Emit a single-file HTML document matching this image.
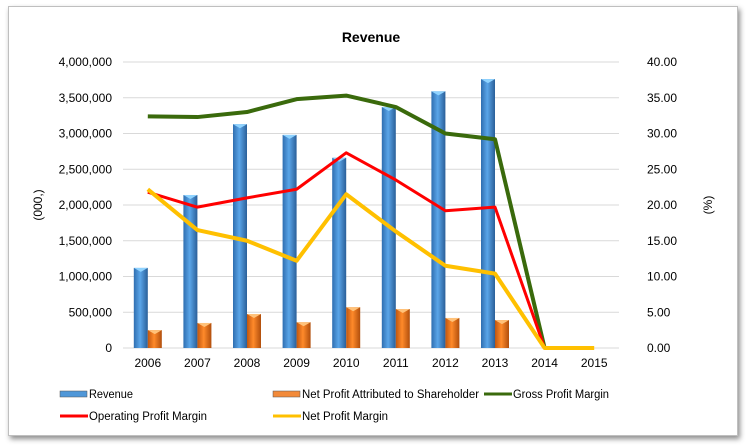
<!DOCTYPE html>
<html><head><meta charset="utf-8"><style>
body{margin:0;background:#fff;width:746px;height:448px;overflow:hidden;font-family:"Liberation Sans",sans-serif}
#frame{position:absolute;left:8px;top:6px;width:728px;height:428px;border:1px solid #bfbfbf;box-shadow:2px 3px 5px rgba(0,0,0,.45);background:#fff}
</style></head><body>
<div id="frame"></div>
<svg id="c" width="746" height="448" style="position:absolute;left:0;top:0">
<defs>
<linearGradient id="gb" x1="0" x2="1"><stop offset="0" stop-color="#2f6eb0"/><stop offset=".45" stop-color="#5aa5e8"/><stop offset="1" stop-color="#2a5f99"/></linearGradient>
<linearGradient id="go" x1="0" x2="1"><stop offset="0" stop-color="#c0560f"/><stop offset=".45" stop-color="#ff8a2a"/><stop offset="1" stop-color="#b04e0c"/></linearGradient>
</defs>
</svg>
<script>
const years=['2006','2007','2008','2009','2010','2011','2012','2013','2014','2015'];
const revenue=[1120000,2140000,3130000,2980000,2660000,3370000,3590000,3760000,0,0];
const netProfit=[250000,350000,475000,360000,570000,545000,420000,390000,0,0];
const grossMargin=[32.4,32.3,33.0,34.8,35.3,33.7,30.0,29.2,0,null];
const opMargin=[21.8,19.7,21.0,22.2,27.3,23.5,19.2,19.7,0,null];
const netMargin=[22.2,16.5,15.0,12.2,21.5,16.3,11.5,10.4,0,0];
const leftTicks=[0,500000,1000000,1500000,2000000,2500000,3000000,3500000,4000000];
const rightTicks=[0,5,10,15,20,25,30,35,40];
const svg=document.getElementById('c');const NS='http://www.w3.org/2000/svg';
function mk(t,a,p){const e=document.createElementNS(NS,t);for(const k in a)e.setAttribute(k,a[k]);(p||svg).appendChild(e);return e;}
const X0=123,BW=49.6,Y0=348,Y1=62;
const xc=i=>X0+BW*(i+0.5);
const yl=v=>Y0-(v/4000000)*(Y0-Y1);
const yr=v=>Y0-(v/40)*(Y0-Y1);
let t=mk('text',{x:371,y:42,'text-anchor':'middle','font-size':14,'font-weight':'bold',fill:'#000'});t.textContent='Revenue';


leftTicks.forEach((v,i)=>{
 const y=yl(v);
 if(i>0){const g=mk('line',{x1:X0,x2:X0+BW*10,y1:y,y2:y,stroke:'#d9d9d9','stroke-width':1});
 
 }
 const l=mk('text',{x:112,y:y+4,'text-anchor':'end','font-size':12,fill:'#000'});l.textContent=v.toLocaleString('en-US');
 
 
});
rightTicks.forEach(v=>{
 const l=mk('text',{x:647,y:yr(v)+4,'font-size':12,fill:'#000'});l.textContent=v.toFixed(2);
 
 
});
const ax=mk('line',{x1:X0,x2:X0+BW*10,y1:Y0,y2:Y0,stroke:'#d9d9d9'});


years.forEach((yv,i)=>{const l=mk('text',{x:xc(i),y:367,'text-anchor':'middle','font-size':12,fill:'#000'});l.textContent=yv;
 
 });
let a=mk('text',{x:0,y:0,transform:'translate(42,205) rotate(-90)','text-anchor':'middle','font-size':12});a.textContent='(000,)';


a=mk('text',{x:0,y:0,transform:'translate(712,205) rotate(-90)','text-anchor':'middle','font-size':12});a.textContent='(%)';


function bar(v,x,fill,cap,name){if(!v)return;const y=yl(v);const r=mk('rect',{x:x,y:y,width:14,height:Y0-y,fill:fill});
 
 
 mk('polygon',{points:`${x},${y} ${x+14},${y} ${x+7},${y+4}`,fill:cap});}
revenue.forEach((v,i)=>bar(v,xc(i)-14,'url(#gb)','#8fd3ff','revenue-bar'));
netProfit.forEach((v,i)=>bar(v,xc(i),'url(#go)','#ffc27a','net-profit-bar'));
function line(arr,col,w,name){const pts=[];arr.forEach((v,i)=>{if(v!==null)pts.push(xc(i)+','+yr(v));});
 const p=mk('polyline',{points:pts.join(' '),fill:'none',stroke:col,'stroke-width':w,'stroke-linejoin':'round'});
 
 }
line(grossMargin,'#3a6a0c',4,'gross-margin-line');
line(opMargin,'#ff0000',3,'operating-margin-line');
line(netMargin,'#ffc000',4,'net-margin-line');
function leg(x,y,kind,col,label,tw,name){const g=mk('g',{});
 
 
 if(kind==='bar')mk('rect',{x:x,y:y-3,width:27,height:6,fill:col,stroke:'#555','stroke-width':.5},g);
 else mk('line',{x1:x,x2:x+28,y1:y,y2:y,stroke:col,'stroke-width':3},g);
 const l=mk('text',{x:x+29,y:y+4,'font-size':11.5,fill:'#000',textLength:tw,lengthAdjust:'spacingAndGlyphs'},g);l.textContent=label;}
leg(60,394,'bar','#4f97d8','Revenue',44,'legend-revenue');
leg(273,394,'bar','#f28a3a','Net Profit Attributed to Shareholder',177,'legend-net-profit');
leg(484,394,'line','#3a6a0c','Gross Profit Margin',96,'legend-gross-margin');
leg(60,416,'line','#ff0000','Operating Profit Margin',118,'legend-operating-margin');
leg(273,416,'line','#ffc000','Net Profit Margin',86,'legend-net-margin');
</script>
</body></html>
